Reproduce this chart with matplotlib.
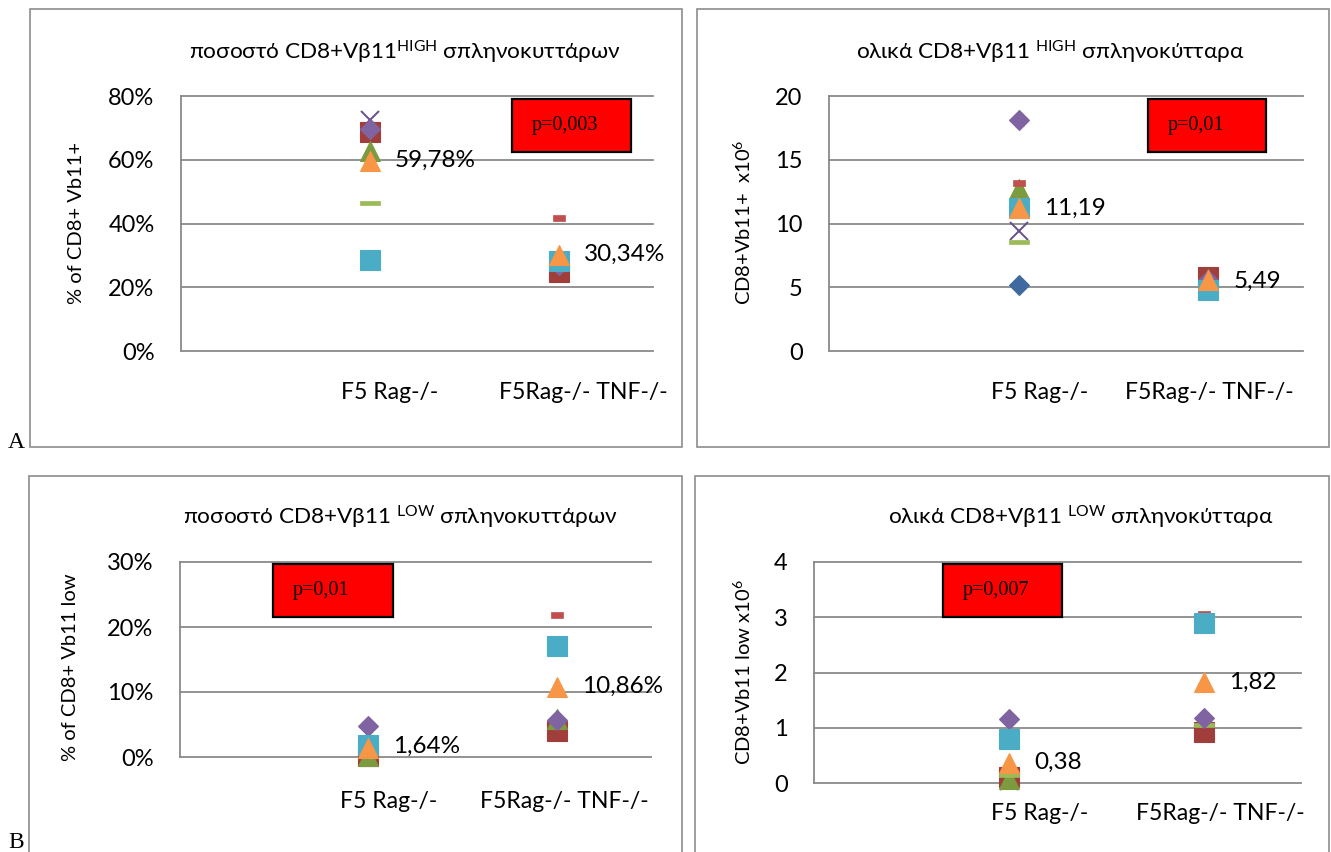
import numpy as np
import matplotlib
matplotlib.use("Agg")
import matplotlib.pyplot as plt
from matplotlib.path import Path
from matplotlib.patches import Rectangle
from matplotlib.ticker import FixedLocator

nan = np.nan

# ---------------- data ----------------
groups = ['F5 Rag-/-', 'F5Rag-/- TNF-/-']
group_x = [1, 2]

# series (draw order): blue diamond, purple x, red square, green triangle,
# green dash, red dash, purple diamond, cyan square, orange triangle
series_names = ['m1', 'm2', 'm3', 'm4', 'm5', 'm6', 'm7', 'm8', 'm9']

pct_high_f5 = [69.8, 72.5, 68.8, 62.7, 46.5, nan, 69.8, 28.5, 59.6]
pct_high_tnf = [nan, nan, 24.9, nan, nan, 41.6, 27.0, 28.2, 30.1]
pct_high_mean = [59.78, 30.34]

tot_high_f5 = [5.18, 9.43, nan, 12.7, 8.57, 13.2, 18.1, 11.19, 11.2]
tot_high_tnf = [nan, nan, 5.8, 5.65, nan, nan, 5.6, 4.8, 5.55]
tot_high_mean = [11.19, 5.49]

pct_low_f5 = [nan, nan, 0.1, 0.2, nan, nan, 4.7, 1.8, 1.4]
pct_low_tnf = [nan, nan, 4.0, 5.8, nan, 21.8, 5.65, 17.1, 10.8]
pct_low_mean = [1.64, 10.86]

tot_low_f5 = [nan, 0.03, 0.1, 0.08, 0.14, nan, 1.16, 0.79, 0.37]
tot_low_tnf = [nan, nan, 0.93, nan, 1.05, 3.05, 1.17, 2.9, 1.82]
tot_low_mean = [0.38, 1.82]

titles = [r'ποσοστό CD8+Vβ11$^{\mathrm{HIGH}}$ σπληνοκυττάρων',
          r'ολικά CD8+Vβ11 $^{\mathrm{HIGH}}$ σπληνοκύτταρα',
          r'ποσοστό CD8+Vβ11 $^{\mathrm{LOW}}$ σπληνοκυττάρων',
          r'ολικά CD8+Vβ11 $^{\mathrm{LOW}}$ σπληνοκύτταρα']
ylabels = ['% of CD8+ Vb11+', r'CD8+Vb11+  x10$^{6}$',
           '% of CD8+ Vb11 low', r'CD8+Vb11 low x10$^{6}$']
pvalues = ['p=0,003', 'p=0,01', 'p=0,01', 'p=0,007']

yt_pct_high = [0, 20, 40, 60, 80]
yt_tot_high = [0, 5, 10, 15, 20]
yt_pct_low = [0, 10, 20, 30]
yt_tot_low = [0, 1, 2, 3, 4]

# ---------------- style ----------------
W, H = 1331, 852
plt.rcParams['font.family'] = ['Lato', 'Noto Sans', 'DejaVu Sans']
plt.rcParams['mathtext.fontset'] = 'custom'
plt.rcParams['mathtext.rm'] = 'Lato'
plt.rcParams['mathtext.it'] = 'Lato'

dash_big = Path([(-1, -0.25), (1, -0.25), (1, 0.25), (-1, 0.25), (-1, -0.25)], closed=True)
dash_small = Path([(-1, -0.42), (1, -0.42), (1, 0.42), (-1, 0.42), (-1, -0.42)], closed=True)

styles = [
    dict(marker='D', ms=10.2, color='#3F6AA0', mew=0.8),
    dict(marker='x', ms=13, color='#65508A', mew=1.4),
    dict(marker='s', ms=14, color='#A03E3B', mew=0.8),
    dict(marker='^', ms=14, color='#7B9B3E', mew=0.8),
    dict(marker=dash_big, ms=14, color='#9BBB59', mew=0.5),
    dict(marker=dash_small, ms=8.6, color='#C0504D', mew=0.5),
    dict(marker='D', ms=10.2, color='#8064A2', mew=0.8),
    dict(marker='s', ms=14, color='#4BACC6', mew=0.8),
    dict(marker='^', ms=14, color='#F79646', mew=0.8),
]

fig = plt.figure(figsize=(W / 100, H / 100), dpi=100)


def fx(x):
    return x / W


def fy(y):
    return 1 - y / H


# panel borders
for (l, t, r, b) in [(30, 9, 682, 447), (697, 9, 1329, 447),
                     (29, 476, 682, 860), (695, 476, 1329, 860)]:
    fig.patches.append(Rectangle((fx(l), fy(b)), fx(r - l), (b - t) / H,
                                 transform=fig.transFigure, fill=False,
                                 edgecolor='#8C8C8C', linewidth=1.2, clip_on=False))

panels = [
    dict(rect=(181, 96, 653, 351), f5=pct_high_f5, tnf=pct_high_tnf, mean=pct_high_mean,
         yt=yt_pct_high, pct=True, title_xy=(405, 52), ylab_xy=(76, 223),
         cat_x=(390, 583), cat_y=393, pbox=(512, 99, 631, 152)),
    dict(rect=(829, 96, 1303, 351), f5=tot_high_f5, tnf=tot_high_tnf, mean=tot_high_mean,
         yt=yt_tot_high, pct=False, title_xy=(1050, 52), ylab_xy=(743, 222),
         cat_x=(1040, 1209), cat_y=393, pbox=(1148, 99, 1266, 152)),
    dict(rect=(180, 562, 651, 757), f5=pct_low_f5, tnf=pct_low_tnf, mean=pct_low_mean,
         yt=yt_pct_low, pct=True, title_xy=(400, 517), ylab_xy=(71, 667),
         cat_x=(389, 564), cat_y=801, pbox=(273, 564, 393, 617)),
    dict(rect=(814, 562, 1301, 783), f5=tot_low_f5, tnf=tot_low_tnf, mean=tot_low_mean,
         yt=yt_tot_low, pct=False, title_xy=(1081, 517), ylab_xy=(743, 672),
         cat_x=(1040, 1220), cat_y=813, pbox=(943, 564, 1062, 617)),
]

grid_col = '#8A8A8A'

for i, p in enumerate(panels):
    l, t, r, b = p['rect']
    ax = fig.add_axes([fx(l), fy(b), fx(r - l), (b - t) / H])
    ax.set_xlim(0, 2.5)
    ax.set_ylim(p['yt'][0], p['yt'][-1])
    for s in ['top', 'right', 'bottom']:
        ax.spines[s].set_visible(False)
    ax.spines['left'].set_color(grid_col)
    ax.spines['left'].set_linewidth(1.3)
    ax.set_xticks([])
    ax.yaxis.set_major_locator(FixedLocator(p['yt']))
    labs = [f'{v}%' if p['pct'] else f'{v}' for v in p['yt']]
    ax.set_yticklabels(labs, fontsize=17)
    ax.tick_params(axis='y', length=0, pad=19)
    for v in p['yt']:
        ax.axhline(v, color=grid_col, lw=1.3, zorder=1, clip_on=False)
    ax.set_facecolor('none')

    for k in range(len(series_names)):
        st = styles[k]
        ys = [p['f5'][k], p['tnf'][k]]
        ax.plot(group_x, ys, linestyle='none', marker=st['marker'], markersize=st['ms'],
                color=st['color'], markeredgecolor=st['color'], markeredgewidth=st['mew'],
                zorder=3 + k, clip_on=False)

    for gx, m in zip(group_x, p['mean']):
        txt = (f'{m:.2f}'.replace('.', ',')) + ('%' if p['pct'] else '')
        ax.annotate(txt, (gx, m), xytext=(18, 0), textcoords='offset points',
                    ha='left', va='center', fontsize=17.5, zorder=20)

    # title, ylabel, categories
    fig.text(fx(p['title_xy'][0]), fy(p['title_xy'][1]), titles[i], ha='center',
             va='center', fontsize=16.2)
    fig.text(fx(p['ylab_xy'][0]), fy(p['ylab_xy'][1]), ylabels[i], ha='center',
             va='center', rotation=90, fontsize=14.5)
    for cx, g in zip(p['cat_x'], groups):
        fig.text(fx(cx), fy(p['cat_y']), g, ha='center', va='center', fontsize=16.6)

    # p-value box
    bl, bt, br, bb = p['pbox']
    fig.patches.append(Rectangle((fx(bl), fy(bb)), fx(br - bl), (bb - bt) / H,
                                 transform=fig.transFigure, facecolor='#FF0000',
                                 edgecolor='black', linewidth=1.6, zorder=30))
    fig.text(fx(bl + 20), fy((bt + bb) / 2), pvalues[i], ha='left', va='center',
             fontsize=14.5, family='Liberation Serif', zorder=31)

fig.text(fx(8), fy(442), 'A', ha='left', va='center', fontsize=17, family='Liberation Serif')
fig.text(fx(8), fy(843), 'B', ha='left', va='center', fontsize=17, family='Liberation Serif')

fig.savefig('out.png', dpi=100, facecolor='white')
